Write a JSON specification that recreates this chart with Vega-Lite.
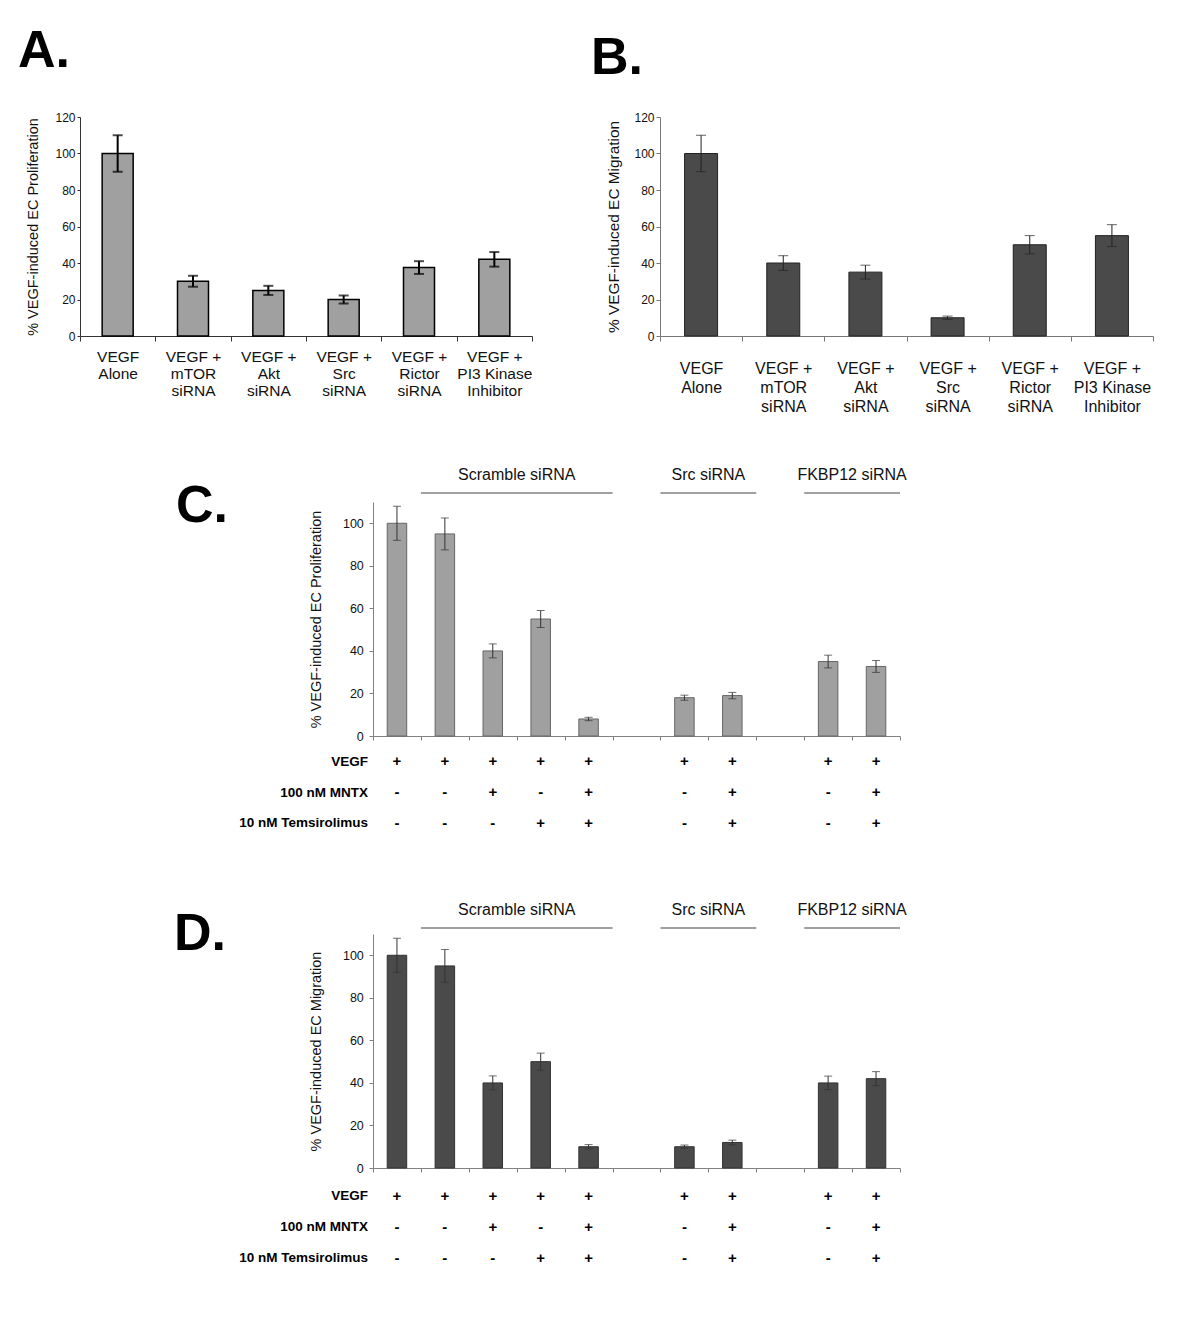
{
  "$schema": "https://vega.github.io/schema/vega-lite/v6.json",
  "background": "white",
  "padding": {"left": 18, "top": 25, "right": 5, "bottom": 5},
  "config": {
    "font": "Liberation Sans",
    "view": {"stroke": null},
    "axis": {"grid": false, "labelFont": "Liberation Sans", "titleFont": "Liberation Sans", "titleFontWeight": "normal", "labelColor": "#111", "titleColor": "#111"},
    "title": {"font": "Liberation Sans", "fontWeight": "bold", "fontSize": 52, "anchor": "start", "frame": "group", "color": "#000"}
  },
  "datasets": {
    "A": [
      {"treatment": "VEGF Alone", "value": 100, "err": 10},
      {"treatment": "VEGF + mTOR siRNA", "value": 30, "err": 3},
      {"treatment": "VEGF + Akt siRNA", "value": 25, "err": 2.5},
      {"treatment": "VEGF + Src siRNA", "value": 20, "err": 2.2},
      {"treatment": "VEGF + Rictor siRNA", "value": 37.5, "err": 3.5},
      {"treatment": "VEGF + PI3 Kinase Inhibitor", "value": 42, "err": 4}
    ],
    "B": [
      {"treatment": "VEGF Alone", "value": 100, "err": 10},
      {"treatment": "VEGF + mTOR siRNA", "value": 40, "err": 4},
      {"treatment": "VEGF + Akt siRNA", "value": 35, "err": 3.8},
      {"treatment": "VEGF + Src siRNA", "value": 10, "err": 0.9},
      {"treatment": "VEGF + Rictor siRNA", "value": 50, "err": 5},
      {"treatment": "VEGF + PI3 Kinase Inhibitor", "value": 55, "err": 6}
    ],
    "C": [
      {"slot": "1", "value": 100, "err": 8},
      {"slot": "2", "value": 95, "err": 7.5},
      {"slot": "3", "value": 40, "err": 3.3},
      {"slot": "4", "value": 55, "err": 4},
      {"slot": "5", "value": 8, "err": 0.8},
      {"slot": "7", "value": 18, "err": 1.2},
      {"slot": "8", "value": 19, "err": 1.5},
      {"slot": "10", "value": 35, "err": 3},
      {"slot": "11", "value": 32.7, "err": 2.8}
    ],
    "D": [
      {"slot": "1", "value": 100, "err": 8},
      {"slot": "2", "value": 95, "err": 7.7},
      {"slot": "3", "value": 40, "err": 3.3},
      {"slot": "4", "value": 50, "err": 4},
      {"slot": "5", "value": 10, "err": 1},
      {"slot": "7", "value": 10, "err": 0.8},
      {"slot": "8", "value": 12, "err": 1.1},
      {"slot": "10", "value": 40, "err": 3.2},
      {"slot": "11", "value": 42, "err": 3.3}
    ],
    "signs": [
      {"slot": "1", "treatment": "VEGF", "sign": "+"},
      {"slot": "1", "treatment": "100 nM MNTX", "sign": "-"},
      {"slot": "1", "treatment": "10 nM Temsirolimus", "sign": "-"},
      {"slot": "2", "treatment": "VEGF", "sign": "+"},
      {"slot": "2", "treatment": "100 nM MNTX", "sign": "-"},
      {"slot": "2", "treatment": "10 nM Temsirolimus", "sign": "-"},
      {"slot": "3", "treatment": "VEGF", "sign": "+"},
      {"slot": "3", "treatment": "100 nM MNTX", "sign": "+"},
      {"slot": "3", "treatment": "10 nM Temsirolimus", "sign": "-"},
      {"slot": "4", "treatment": "VEGF", "sign": "+"},
      {"slot": "4", "treatment": "100 nM MNTX", "sign": "-"},
      {"slot": "4", "treatment": "10 nM Temsirolimus", "sign": "+"},
      {"slot": "5", "treatment": "VEGF", "sign": "+"},
      {"slot": "5", "treatment": "100 nM MNTX", "sign": "+"},
      {"slot": "5", "treatment": "10 nM Temsirolimus", "sign": "+"},
      {"slot": "7", "treatment": "VEGF", "sign": "+"},
      {"slot": "7", "treatment": "100 nM MNTX", "sign": "-"},
      {"slot": "7", "treatment": "10 nM Temsirolimus", "sign": "-"},
      {"slot": "8", "treatment": "VEGF", "sign": "+"},
      {"slot": "8", "treatment": "100 nM MNTX", "sign": "+"},
      {"slot": "8", "treatment": "10 nM Temsirolimus", "sign": "+"},
      {"slot": "10", "treatment": "VEGF", "sign": "+"},
      {"slot": "10", "treatment": "100 nM MNTX", "sign": "-"},
      {"slot": "10", "treatment": "10 nM Temsirolimus", "sign": "-"},
      {"slot": "11", "treatment": "VEGF", "sign": "+"},
      {"slot": "11", "treatment": "100 nM MNTX", "sign": "+"},
      {"slot": "11", "treatment": "10 nM Temsirolimus", "sign": "+"}
    ],
    "groups": [
      {"label": "Scramble siRNA", "first": "2", "last": "5", "mid": "4"},
      {"label": "Src siRNA", "first": "7", "last": "8", "mid": "8"},
      {"label": "FKBP12 siRNA", "first": "10", "last": "11", "mid": "11"}
    ]
  },
  "spacing": 53,
  "vconcat": [
    {
      "bounds": "flush",
      "spacing": 128,
      "hconcat": [
        {
          "width": 452, "height": 219,
          "title": {"text": "A.", "dx": -62, "offset": 33},
          "data": {"name": "A"},
          "encoding": {
            "x": {"field": "treatment", "type": "nominal", "sort": null,
              "scale": {"paddingInner": 0, "paddingOuter": 0},
              "axis": {"title": null, "labelAngle": 0, "labelFontSize": 15.5, "labelLineHeight": 17, "labelPadding": 8, "tickSize": 5, "tickBand": "extent", "domainColor": "#333", "tickColor": "#333", "labelColor": "#111",
                "labelExpr": "split(replace(replace(replace(replace(datum.label,' + ',' +|'),' siRNA','|siRNA'),' Inhibitor','|Inhibitor'),' Alone','|Alone'),'|')"}},
            "y": {"field": "value", "type": "quantitative", "scale": {"domain": [0, 120]},
              "axis": {"values": [0, 20, 40, 60, 80, 100, 120], "title": "% VEGF-induced EC Proliferation", "titleFontSize": 14.5, "titlePadding": 14, "labelFontSize": 12, "tickSize": 3, "labelPadding": 2, "domainColor": "#333", "tickColor": "#333"}}
          },
          "layer": [
            {"mark": {"type": "bar", "fill": "#a0a0a0", "stroke": "#000", "strokeWidth": 1.5, "width": 31}},
            {"mark": {"type": "errorbar", "color": "#000", "thickness": 2, "ticks": {"size": 10, "thickness": 2}},
              "encoding": {"yError": {"field": "err"}}}
          ]
        },
        {
          "width": 493, "height": 219,
          "title": {"text": "B.", "dx": -69, "offset": 26},
          "data": {"name": "B"},
          "encoding": {
            "x": {"field": "treatment", "type": "nominal", "sort": null,
              "scale": {"paddingInner": 0, "paddingOuter": 0},
              "axis": {"title": null, "labelAngle": 0, "labelFontSize": 16, "labelLineHeight": 19, "labelPadding": 19, "tickSize": 5, "tickBand": "extent", "domainColor": "#777", "tickColor": "#777", "labelColor": "#111",
                "labelExpr": "split(replace(replace(replace(replace(datum.label,' + ',' +|'),' siRNA','|siRNA'),' Inhibitor','|Inhibitor'),' Alone','|Alone'),'|')"}},
            "y": {"field": "value", "type": "quantitative", "scale": {"domain": [0, 120]},
              "axis": {"values": [0, 20, 40, 60, 80, 100, 120], "title": "% VEGF-induced EC Migration", "titleFontSize": 15.4, "titlePadding": 12, "labelFontSize": 12, "tickSize": 4, "labelPadding": 2, "domainColor": "#777", "tickColor": "#777"}}
          },
          "layer": [
            {"mark": {"type": "bar", "fill": "#4a4a4a", "stroke": "#222", "strokeWidth": 1, "width": 33}},
            {"mark": {"type": "errorbar", "color": "#222", "thickness": 1, "ticks": {"size": 10, "thickness": 1}},
              "encoding": {"yError": {"field": "err"}}}
          ]
        }
      ]
    },
    {
      "bounds": "flush",
      "align": "none",
      "columns": 2,
      "spacing": {"row": 0, "column": 128},
      "concat": [
        {"width": 165, "height": 1, "data": {"values": []}, "mark": "point"},
        {
          "width": 527, "height": 18,
          "data": {"name": "groups"},
          "layer": [
            {"mark": {"type": "rule", "color": "#808080", "strokeWidth": 1.5},
              "encoding": {
                "x": {"field": "first", "type": "nominal", "bandPosition": 0, "scale": {"domain": ["1","2","3","4","5","6","7","8","9","10","11"], "paddingInner": 0, "paddingOuter": 0}, "axis": null},
                "x2": {"field": "last", "bandPosition": 1}}},
            {"mark": {"type": "text", "fontSize": 16, "dy": -18, "color": "#111"},
              "encoding": {
                "x": {"field": "mid", "type": "nominal", "bandPosition": 0, "axis": null},
                "text": {"field": "label"}}}
          ]
        },
        {"width": 165, "height": 1, "data": {"values": []}, "mark": "point"},
        {
          "width": 527, "height": 234,
          "title": {"text": "C.", "dx": -197, "offset": -31},
          "data": {"name": "C"},
          "encoding": {
            "x": {"field": "slot", "type": "nominal",
              "scale": {"domain": ["1","2","3","4","5","6","7","8","9","10","11"], "paddingInner": 0, "paddingOuter": 0},
              "axis": {"title": null, "labels": false, "tickSize": 4, "tickBand": "extent", "domainColor": "#808080", "tickColor": "#808080"}},
            "y": {"field": "value", "type": "quantitative", "scale": {"domain": [0, 110]},
              "axis": {"values": [0, 20, 40, 60, 80, 100], "title": "% VEGF-induced EC Proliferation", "titleFontSize": 14.5, "titlePadding": 18.6, "labelFontSize": 12.5, "tickSize": 4, "labelPadding": 5.7, "domainColor": "#808080", "tickColor": "#808080"}}
          },
          "layer": [
            {"mark": {"type": "bar", "fill": "#a0a0a0", "stroke": "#666", "strokeWidth": 1, "width": 19.5}},
            {"mark": {"type": "errorbar", "color": "#333", "thickness": 1, "ticks": {"size": 8, "thickness": 1}},
              "encoding": {"yError": {"field": "err"}}}
          ]
        },
        {"width": 1, "height": 1, "data": {"values": []}, "mark": "point"},
        {"width": 1, "height": 10, "data": {"values": []}, "mark": "point"},
        {"width": 165, "height": 1, "data": {"values": []}, "mark": "point"},
        {
          "width": 527, "height": 92,
          "data": {"name": "signs"},
          "mark": {"type": "text", "fontSize": 15, "fontWeight": "bold", "color": "#000"},
          "encoding": {
            "x": {"field": "slot", "type": "nominal", "scale": {"domain": ["1","2","3","4","5","6","7","8","9","10","11"], "paddingInner": 0, "paddingOuter": 0}, "axis": null},
            "y": {"field": "treatment", "type": "nominal", "scale": {"domain": ["VEGF", "100 nM MNTX", "10 nM Temsirolimus"], "paddingInner": 0, "paddingOuter": 0},
              "axis": {"title": null, "ticks": false, "domain": false, "labelFontWeight": "bold", "labelFontSize": 13.5, "labelPadding": 5.4, "labelColor": "#000", "labelLimit": 300}},
            "text": {"field": "sign"}
          }
        },
        {"width": 1, "height": 1, "data": {"values": []}, "mark": "point"},
        {"width": 1, "height": 84, "data": {"values": []}, "mark": "point"},
        {"width": 165, "height": 1, "data": {"values": []}, "mark": "point"},
        {
          "width": 527, "height": 12,
          "data": {"name": "groups"},
          "layer": [
            {"mark": {"type": "rule", "color": "#808080", "strokeWidth": 1.5},
              "encoding": {
                "x": {"field": "first", "type": "nominal", "bandPosition": 0, "scale": {"domain": ["1","2","3","4","5","6","7","8","9","10","11"], "paddingInner": 0, "paddingOuter": 0}, "axis": null},
                "x2": {"field": "last", "bandPosition": 1}}},
            {"mark": {"type": "text", "fontSize": 16, "dy": -18, "color": "#111"},
              "encoding": {
                "x": {"field": "mid", "type": "nominal", "bandPosition": 0, "axis": null},
                "text": {"field": "label"}}}
          ]
        },
        {"width": 165, "height": 1, "data": {"values": []}, "mark": "point"},
        {
          "width": 527, "height": 234,
          "title": {"text": "D.", "dx": -199, "offset": -27},
          "data": {"name": "D"},
          "encoding": {
            "x": {"field": "slot", "type": "nominal",
              "scale": {"domain": ["1","2","3","4","5","6","7","8","9","10","11"], "paddingInner": 0, "paddingOuter": 0},
              "axis": {"title": null, "labels": false, "tickSize": 4, "tickBand": "extent", "domainColor": "#808080", "tickColor": "#808080"}},
            "y": {"field": "value", "type": "quantitative", "scale": {"domain": [0, 110]},
              "axis": {"values": [0, 20, 40, 60, 80, 100], "title": "% VEGF-induced EC Migration", "titleFontSize": 14.5, "titlePadding": 18.6, "labelFontSize": 12.5, "tickSize": 4, "labelPadding": 5.7, "domainColor": "#808080", "tickColor": "#808080"}}
          },
          "layer": [
            {"mark": {"type": "bar", "fill": "#4a4a4a", "stroke": "#333", "strokeWidth": 1, "width": 19.5}},
            {"mark": {"type": "errorbar", "color": "#333", "thickness": 1, "ticks": {"size": 8, "thickness": 1}},
              "encoding": {"yError": {"field": "err"}}}
          ]
        },
        {"width": 1, "height": 1, "data": {"values": []}, "mark": "point"},
        {"width": 1, "height": 12, "data": {"values": []}, "mark": "point"},
        {"width": 165, "height": 1, "data": {"values": []}, "mark": "point"},
        {
          "width": 527, "height": 93,
          "data": {"name": "signs"},
          "mark": {"type": "text", "fontSize": 15, "fontWeight": "bold", "color": "#000"},
          "encoding": {
            "x": {"field": "slot", "type": "nominal", "scale": {"domain": ["1","2","3","4","5","6","7","8","9","10","11"], "paddingInner": 0, "paddingOuter": 0}, "axis": null},
            "y": {"field": "treatment", "type": "nominal", "scale": {"domain": ["VEGF", "100 nM MNTX", "10 nM Temsirolimus"], "paddingInner": 0, "paddingOuter": 0},
              "axis": {"title": null, "ticks": false, "domain": false, "labelFontWeight": "bold", "labelFontSize": 13.5, "labelPadding": 5.4, "labelColor": "#000", "labelLimit": 300}},
            "text": {"field": "sign"}
          }
        }
      ]
    }
  ]
}
